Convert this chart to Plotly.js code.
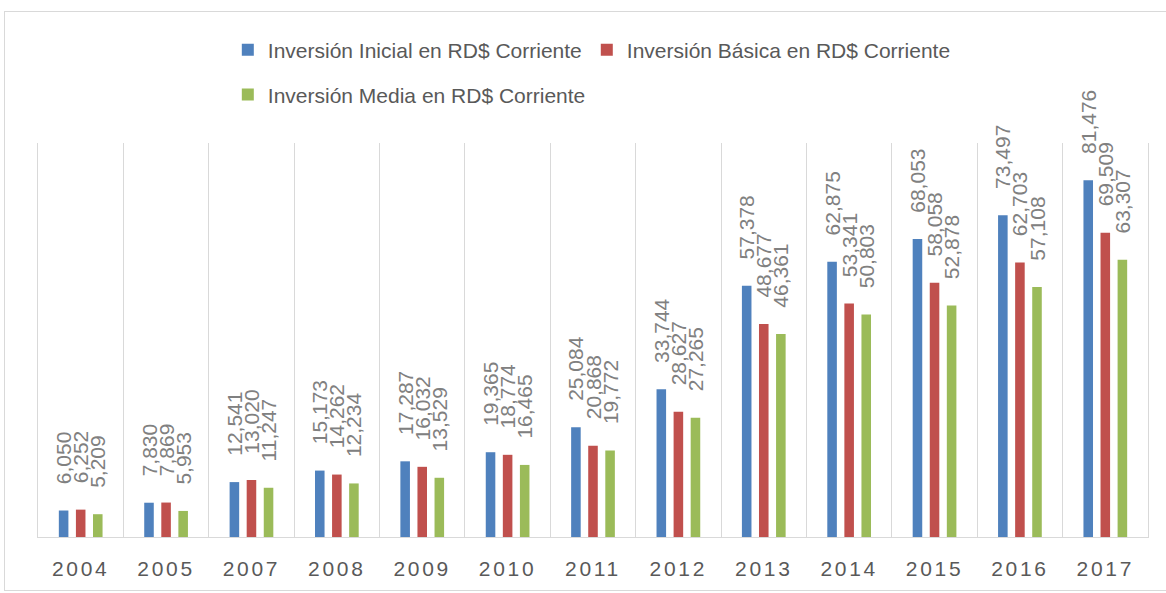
<!DOCTYPE html>
<html>
<head>
<meta charset="utf-8">
<script src="https://cdn.plot.ly/plotly-3.0.1.min.js"></script>
<style>
  html, body { margin:0; padding:0; background:#fff; }
  #wrap { position:relative; width:1166px; height:593px; }
  #chart { width:1166px; height:593px; }
  #frame { position:absolute; left:4px; top:11px; width:1170px; height:578px; border:1px solid #d9d9d9; pointer-events:none; }
  .xtick text { letter-spacing:2.7px; }
</style>
</head>
<body>
<div id="wrap"><div id="chart"></div><div id="frame"></div></div>
<script>
const years = ["2004","2005","2007","2008","2009","2010","2011","2012","2013","2014","2015","2016","2017"];
const inicial = [6050, 7830, 12541, 15173, 17287, 19365, 25084, 33744, 57378, 62875, 68053, 73497, 81476];
const basica  = [6252, 7869, 13020, 14262, 16032, 18774, 20868, 28627, 48677, 53341, 58058, 62703, 69509];
const media   = [5209, 5953, 11247, 12234, 13529, 16465, 19772, 27265, 46361, 50803, 52878, 57108, 63307];
const names = ["Inversión Inicial en RD$ Corriente", "Inversión Básica en RD$ Corriente", "Inversión Media en RD$ Corriente"];
const colors = ["#4f81bd", "#c0504d", "#9bbb59"];

const pad = "\u00a0\u00a0\u00a0\u00a0";
function mk(vals, i, leg) {
  return {
    type: "bar", x: years, y: vals, name: names[i],
    marker: { color: colors[i] },
    texttemplate: pad + "%{y:,}", textposition: "outside", textangle: -90,
    constraintext: "none", cliponaxis: false,
    textfont: { family: "Liberation Sans, Arial, sans-serif", size: 21, color: "#808080" },
    hoverinfo: "skip",
    legend: leg
  };
}
const data = [mk(inicial, 0, "legend"), mk(basica, 1, "legend"), mk(media, 2, "legend2")];

const legFont = { family: "Liberation Sans, Arial, sans-serif", size: 21, color: "#595959" };
const layout = {
  width: 1166, height: 593,
  margin: { l: 38, r: 18, t: 143, b: 56 },
  paper_bgcolor: "#fff", plot_bgcolor: "#fff",
  barmode: "group", bargap: 0.40, bargroupgap: 0.44,
  font: { family: "Liberation Sans, Arial, sans-serif" },
  xaxis: {
    type: "category", tickson: "boundaries", ticks: "",
    showgrid: true, gridcolor: "#d9d9d9", gridwidth: 1,
    showline: true, linecolor: "#d9d9d9", linewidth: 1,
    tickfont: { family: "Liberation Sans, Arial, sans-serif", size: 21, color: "#595959" },
    ticklabelstandoff: 13
  },
  yaxis: {
    range: [0, 90000], showgrid: false, zeroline: false, showticklabels: false,
    showline: true, mirror: true, linecolor: "#d9d9d9", linewidth: 1, ticks: ""
  },
  showlegend: true,
  legend: { orientation: "h", x: 0.171, xanchor: "left", y: 1.236, yanchor: "middle", font: legFont, bgcolor: "rgba(0,0,0,0)", itemwidth: 30 },
  legend2: { orientation: "h", x: 0.171, xanchor: "left", y: 1.122, yanchor: "middle", font: legFont, bgcolor: "rgba(0,0,0,0)", itemwidth: 30 }
};
Plotly.newPlot("chart", data, layout, { displayModeBar: false, staticPlot: true });
</script>
</body>
</html>
